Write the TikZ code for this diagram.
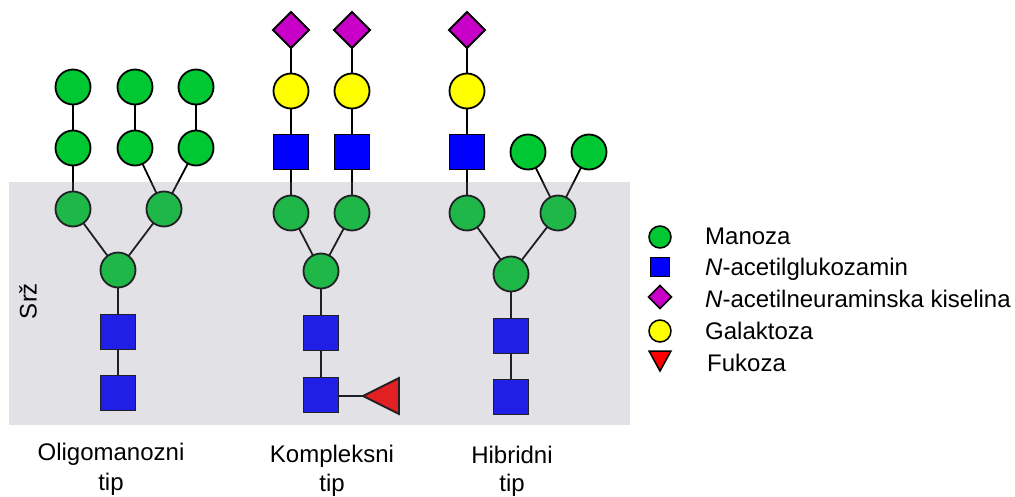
\documentclass[tikz,border=0pt]{standalone}
\usepackage{fontspec}
\setmainfont{Liberation Sans}
\usetikzlibrary{shapes.geometric}
\definecolor{mangreen}{RGB}{0,200,50}
\definecolor{glcblue}{RGB}{0,0,255}
\definecolor{siapurple}{RGB}{200,0,200}
\definecolor{galyellow}{RGB}{255,255,0}
\definecolor{fucred}{RGB}{255,0,0}
\definecolor{coregray}{RGB}{134,133,150}
\begin{document}
\begin{tikzpicture}[x=1pt,y=-1pt,
 sym/.style={draw=black,line width=1.8pt,inner sep=0pt,outer sep=0pt},
 man/.style={sym,circle,fill=mangreen,minimum size=35pt},
 gal/.style={sym,circle,fill=galyellow,minimum size=35pt},
 glc/.style={sym,rectangle,fill=glcblue,minimum size=35pt},
 sia/.style={sym,diamond,fill=siapurple,minimum size=36pt},
 fuc/.style={sym,isosceles triangle,isosceles triangle stretches,fill=fucred,minimum width=36pt,minimum height=36pt,shape border rotate=180},
 lsym/.style={draw=black,line width=1.5pt,inner sep=0pt,outer sep=0pt},
 lman/.style={lsym,circle,fill=mangreen,minimum size=22pt},
 lgal/.style={lsym,circle,fill=galyellow,minimum size=22pt},
 lglc/.style={lsym,rectangle,fill=glcblue,minimum size=19pt},
 lsia/.style={lsym,diamond,fill=siapurple,minimum size=23pt},
 lfuc/.style={lsym,isosceles triangle,isosceles triangle stretches,fill=fucred,minimum width=22pt,minimum height=20pt,shape border rotate=270},
 bond/.style={line width=1.8pt},
 lbl/.style={font=\fontsize{24}{28}\selectfont,anchor=base,inner sep=0pt},
 leg/.style={font=\fontsize{24}{28}\selectfont,anchor=base west,inner sep=0pt}
]
\useasboundingbox (0,0) rectangle (1015,497);

% ---------- Oligomanozni tip ----------
\node[man] (o11) at (73,87) {};
\node[man] (o12) at (135,87) {};
\node[man] (o13) at (196,87) {};
\node[man] (o21) at (73,148) {};
\node[man] (o22) at (135,148) {};
\node[man] (o23) at (196,148) {};
\node[man] (o31) at (73,209) {};
\node[man] (o32) at (164,209) {};
\node[man] (o4) at (118,270) {};
\node[glc] (o5) at (118,332) {};
\node[glc] (o6) at (118,393) {};
\draw[bond] (o11) -- (o21);
\draw[bond] (o12) -- (o22);
\draw[bond] (o13) -- (o23);
\draw[bond] (o21) -- (o31);
\draw[bond] (o22) -- (o32);
\draw[bond] (o23) -- (o32);
\draw[bond] (o31) -- (o4);
\draw[bond] (o32) -- (o4);
\draw[bond] (o4) -- (o5);
\draw[bond] (o5) -- (o6);

% ---------- Kompleksni tip ----------
\node[sia] (k11) at (291,30) {};
\node[sia] (k12) at (352,30) {};
\node[gal] (k21) at (291,91) {};
\node[gal] (k22) at (352,91) {};
\node[glc] (k31) at (291,152) {};
\node[glc] (k32) at (352,152) {};
\node[man] (k41) at (291,213) {};
\node[man] (k42) at (352,213) {};
\node[man] (k5) at (321,271) {};
\node[glc] (k6) at (321,333) {};
\node[glc] (k7) at (321,395) {};
\node[fuc,anchor=apex] (kf) at (363,396) {};
\draw[bond] (k11) -- (k21);
\draw[bond] (k12) -- (k22);
\draw[bond] (k21) -- (k31);
\draw[bond] (k22) -- (k32);
\draw[bond] (k31) -- (k41);
\draw[bond] (k32) -- (k42);
\draw[bond] (k41) -- (k5);
\draw[bond] (k42) -- (k5);
\draw[bond] (k5) -- (k6);
\draw[bond] (k6) -- (k7);
\draw[bond] (k7.east |- kf.apex) -- (kf.apex);

% ---------- Hibridni tip ----------
\node[sia] (h1) at (467,30) {};
\node[gal] (h2) at (467,91) {};
\node[glc] (h3) at (467,152) {};
\node[man] (h4) at (467,213) {};
\node[man] (h51) at (528,152) {};
\node[man] (h52) at (589,152) {};
\node[man] (h6) at (558,213) {};
\node[man] (h7) at (511,274) {};
\node[glc] (h8) at (511,336) {};
\node[glc] (h9) at (511,397) {};
\draw[bond] (h1) -- (h2);
\draw[bond] (h2) -- (h3);
\draw[bond] (h3) -- (h4);
\draw[bond] (h51) -- (h6);
\draw[bond] (h52) -- (h6);
\draw[bond] (h4) -- (h7);
\draw[bond] (h6) -- (h7);
\draw[bond] (h7) -- (h8);
\draw[bond] (h8) -- (h9);

% ---------- Core overlay ----------
\fill[coregray,fill opacity=0.24] (9,182) rectangle (630,425);
\node[font=\fontsize{24}{28}\selectfont,rotate=90,inner sep=0pt] (srz) at (28,301) {Srž};

% ---------- Labels ----------
\node[lbl] (lo1) at (111,460) {Oligomanozni};
\node[lbl] (lo2) at (111,490) {tip};
\node[lbl] (lk1) at (332,462) {Kompleksni};
\node[lbl] (lk2) at (332,491) {tip};
\node[lbl] (lh1) at (512,463) {Hibridni};
\node[lbl] (lh2) at (512,491) {tip};

% ---------- Legend ----------
\node[lman] (s1) at (660,237) {};
\node[lglc] (s2) at (660,267) {};
\node[lsia] (s3) at (660,297) {};
\node[lgal] (s4) at (660,331) {};
\node[lfuc,anchor=apex] (s5) at (660,371) {};
\node[leg] (t1) at (705,244) {Manoza};
\node[leg] (t2) at (705,276) {\textit{N}-acetilglukozamin};
\node[leg] (t3) at (705,307) {\textit{N}-acetilneuraminska kiselina};
\node[leg] (t4) at (705,339) {Galaktoza};
\node[leg] (t5) at (707,371) {Fukoza};
\end{tikzpicture}
\end{document}
